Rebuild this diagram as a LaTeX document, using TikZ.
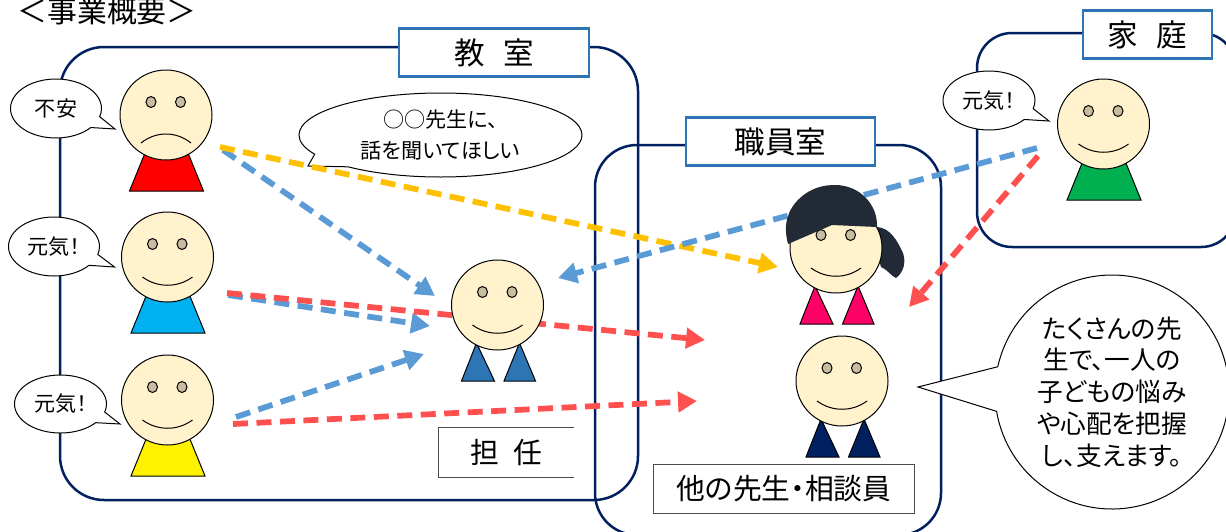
\documentclass[tikz,border=0pt]{standalone}
\usepackage{fontspec}
\setmainfont[RawFeature=+palt]{Noto Sans CJK JP}
\usetikzlibrary{arrows.meta,shapes.callouts}

\definecolor{roomnavy}{HTML}{002060}
\definecolor{tagblue}{HTML}{2E75B6}
\definecolor{skin}{HTML}{FFF2CC}
\definecolor{eyegrey}{HTML}{C9BD9F}
\definecolor{hairdark}{HTML}{222A35}
\definecolor{arrowblue}{HTML}{5B9BD5}
\definecolor{arrowred}{HTML}{FF5050}
\definecolor{arrowgold}{HTML}{FFC000}
\definecolor{shirtcyan}{HTML}{00B0F0}
\definecolor{shirtgreen}{HTML}{00B050}
\definecolor{suitpink}{HTML}{FF0066}

\def\tagfont{\fontsize{17.4}{20}\selectfont\spaceskip=0.6em\relax}
\def\namefont{\fontsize{16.4}{20}\selectfont\spaceskip=0.5em\relax}

\tikzset{
	roomline/.style={draw=roomnavy, line width=0.05cm},
	roomtag/.style={draw=tagblue, line width=0.05cm, fill=white, minimum height=0.96cm, inner sep=0pt, font=\tagfont},
	facetag/.style={minimum height=0.98cm, inner sep=0pt, font=\namefont},
	faceline/.style={draw=black, line width=0.02cm},
	talkbubble/.style 2 args={ellipse callout, draw=black, line width=0.02cm, fill=white, minimum width=#1*0.02cm, minimum height=#2*0.02cm, inner sep=0pt, callout pointer arc=24, align=center},
	talksmall/.style={font=\fontsize{12}{18.1}\selectfont},
	talklarge/.style={font=\fontsize{14.6}{18.1}\selectfont},
	dasharrow/.style={line width=0.115cm, dash pattern=on 0.3cm off 0.17cm, -{Triangle[length=0.38cm,width=0.4cm]}},
}

\def\headat(#1,#2){
	\begin{scope}[shift={(#1,#2)}]
		\draw[faceline, fill=skin] (0,0) ellipse (46 and 45);
		\draw[faceline, fill=eyegrey] (-15,-13) ellipse (5 and 5.5);
		\draw[faceline, fill=eyegrey] (14.5,-13) ellipse (5 and 5.5);
	\end{scope}
}
\def\smileat(#1,#2){\draw[faceline, shift={(#1,#2)}] (-25,20) .. controls (-10,31) and (10,31) .. (25,20);}
\def\frownat(#1,#2){\draw[faceline, shift={(#1,#2)}] (-25,28) .. controls (-10,16) and (10,16) .. (25,28);}
\def\shirtat[#1](#2,#3){\draw[faceline, fill=#1, shift={(#2,#3)}] (-36.5,76) -- (37.5,76) -- (22,38) -- (-21,38) -- cycle;}
\def\suitat[#1](#2,#3){
	\draw[faceline, fill=#1, shift={(#2,#3)}] (-36,76) -- (-3,76) -- (-21,38) -- cycle;
	\draw[faceline, fill=#1, shift={(#2,#3)}] (6.5,76) -- (38,76) -- (22,38) -- cycle;
}

\begin{document}
\begin{tikzpicture}[x=0.02cm, y=-0.02cm]
	\useasboundingbox (0,0) rectangle (1226,531);
	\clip (0,0) rectangle (1226,531);
	%%%%% ROOMS %%%%%

	\draw[roomline, rounded corners=0.88cm] (60,47) rectangle (638,500);
	\draw[roomline, rounded corners=0.84cm] (595,145) rectangle (941,535);
	\draw[roomline, rounded corners=0.7cm] (977,33) rectangle (1236,247);

	\node[roomtag, minimum width=3.8cm] (classtag) at (494,52.5) {教 室};
	\node[roomtag, minimum width=3.78cm] (stafftag) at (780.5,141.5) {職員室};
	\node[roomtag, minimum width=2.58cm] (hometag) at (1147.5,34.5) {家 庭};

	\node[font=\fontsize{17}{20}\selectfont] (title) at (107,11.5) {＜事業概要＞};

	\node[facetag, minimum width=2.7cm] (tannin) at (506.5,452.5) {担 任};
	\draw[black!70, line width=0.02cm] (tannin.north east) -- (tannin.north west) -- (tannin.south west) -- (tannin.south east);
	\node[facetag, draw=black!70, line width=0.02cm, minimum width=5.24cm] (others) at (784,488.5) {他の先生・相談員};

	%%%%% BUBBLES %%%%%

	\node[talkbubble={91}{59}, talksmall, callout absolute pointer={(115,129)}] (fuan) at (56,108.5) {不安};
	\node[talkbubble={91}{59}, talksmall, callout absolute pointer={(114.5,267)}] (genkia) at (54,246.5) {元気！};
	\node[talkbubble={92}{58}, talksmall, callout absolute pointer={(120,424)}] (genkib) at (60.5,404) {元気！};
	\node[talkbubble={92}{59}, talksmall, callout absolute pointer={(1049,121)}] (genkic) at (989,100.5) {元気！};
	\node[talkbubble={283}{84}, talksmall, callout pointer arc=22, callout absolute pointer={(308,166)}] (wish) at (440.5,135) {○○先生に、\\話を聞いてほしい};
	\node[talkbubble={234}{234}, talklarge, callout pointer arc=22, callout absolute pointer={(918,387)}] (support) at (1112,392) {たくさんの先\\生で、一人の\\子どもの悩み\\や心配を把握\\し、支えます。};

	%%%%% ARROWS %%%%%

	\coordinate (sadgold) at (220,147);
	\coordinate (sadblue) at (223,150);
	\coordinate (bluered) at (227,293);
	\coordinate (blueblue) at (228,295);
	\coordinate (yellowblue) at (236,417);
	\coordinate (yellowred) at (233,424);
	\coordinate (homeblue) at (1037,148);
	\coordinate (homered) at (1038,156);
	\coordinate (toteacherup) at (435,296);
	\coordinate (toteachermid) at (430,326);
	\coordinate (toteacherlow) at (424,354);
	\coordinate (toteacherright) at (558,278);
	\coordinate (tofemale) at (778,267);
	\coordinate (tostaffright) at (909,307);
	\coordinate (tostaffmid) at (705,340);
	\coordinate (tostafflow) at (697,401);

	\draw[dasharrow, arrowblue] (sadblue) -- (toteacherup);
	\draw[dasharrow, arrowgold] (sadgold) -- (tofemale);
	\draw[dasharrow, arrowblue] (blueblue) -- (toteachermid);
	\draw[dasharrow, arrowred] (bluered) -- (tostaffmid);
	\draw[dasharrow, arrowblue] (yellowblue) -- (toteacherlow);
	\draw[dasharrow, arrowred] (yellowred) -- (tostafflow);
	\draw[dasharrow, arrowblue] (homeblue) -- (toteacherright);
	\draw[dasharrow, arrowred] (homered) -- (tostaffright);

	%%%%% PEOPLE %%%%%

	\shirtat[red](166,115)
	\headat(166,115)
	\frownat(166,115)

	\shirtat[shirtcyan](167.5,257)
	\headat(167.5,257)
	\smileat(167.5,257)

	\shirtat[yellow](167.5,400)
	\headat(167.5,400)
	\smileat(167.5,400)

	\shirtat[shirtgreen](1103.5,124)
	\headat(1103.5,124)
	\smileat(1103.5,124)

	\suitat[tagblue](497.5,305)
	\headat(497.5,305)
	\smileat(497.5,305)

	\suitat[roomnavy](842,381)
	\headat(842,381)
	\smileat(842,381)

	% pony tail goes behind the head, the fringe in front of it
	\suitat[suitpink](836,248)
	\fill[hairdark] (870,227) -- (877,227) .. controls (890,228) and (897,240) .. (903,253) .. controls (906,262) and (904,272) .. (896,278) .. controls (891,276) and (888,270) .. (881,267) -- cycle;
	\headat(836,248)
	\smileat(836,248)
	\fill[hairdark] (788,244) .. controls (783,225) and (787,210) .. (800,198) .. controls (812,187) and (825,185) .. (835,185) .. controls (860,185) and (878,205) .. (877,227) -- (832,225) -- cycle;

\end{tikzpicture}
\end{document}
